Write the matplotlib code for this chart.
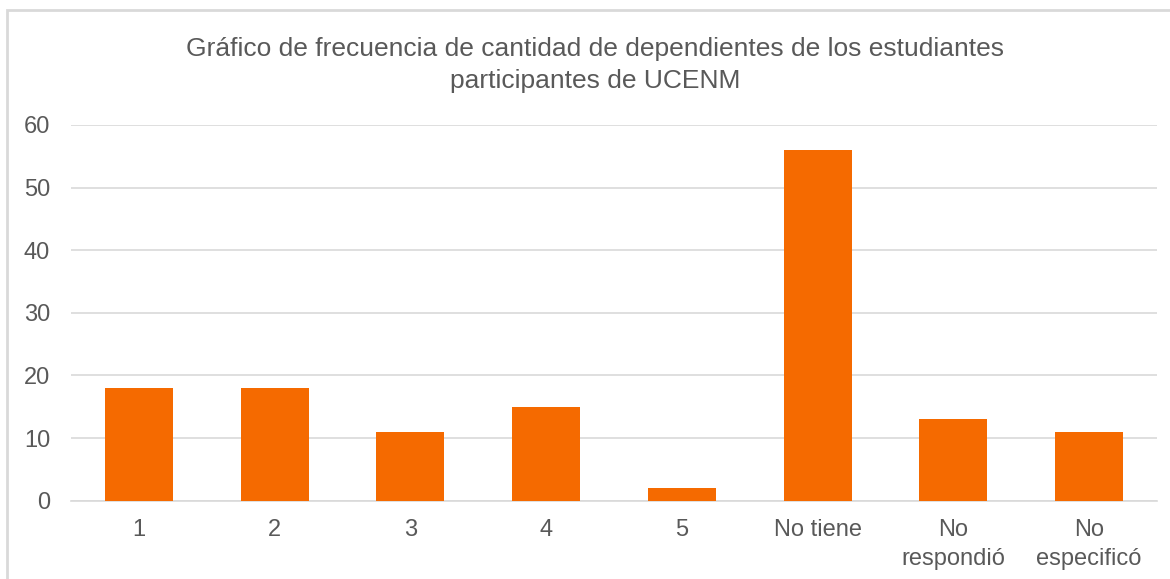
import numpy as np
import matplotlib.pyplot as plt
from matplotlib.patches import Rectangle

plt.rcParams['font.family'] = ['Liberation Sans', 'DejaVu Sans']

categories = ['1', '2', '3', '4', '5', 'No tiene', 'No\nrespondió', 'No\nespecificó']
counts = [18, 18, 11, 15, 2, 56, 13, 11]
y_ticks = [0, 10, 20, 30, 40, 50, 60]

W, H = 1170, 579
fig = plt.figure(figsize=(W / 100, H / 100), dpi=100)

# light gray frame round the chart area (right and bottom edges fall off the image)
fig.patches.append(Rectangle((7 / W, -0.05), 1.2, 1 - 10 / H + 0.05,
                             transform=fig.transFigure, fill=False,
                             edgecolor='#D9D9D9', linewidth=2))

ax = fig.add_axes([71 / W, 1 - 500.7 / H, (1157 - 71) / W, (500.7 - 125) / H])
x = np.arange(len(categories))
ax.bar(x, counts, width=0.5, color='#F56A00', zorder=3)

ax.set_xlim(-0.5, len(categories) - 0.5)
ax.set_ylim(0, 60)
ax.set_yticks(y_ticks)
ax.set_xticks(x)
ax.set_xticklabels(categories, fontsize=17, color='#595959', linespacing=1.45)
ax.tick_params(axis='y', labelsize=17, labelcolor='#595959', length=0, pad=15)
ax.tick_params(axis='x', length=0, pad=13)

ax.grid(axis='y', color='#D9D9D9', linewidth=1.2, zorder=0)
for s in ['top', 'right', 'left']:
    ax.spines[s].set_visible(False)
ax.spines['bottom'].set_color('#D9D9D9')
ax.spines['bottom'].set_linewidth(1.2)

fig.text(595 / W, 1 - 65 / H,
         'Gráfico de frecuencia de cantidad de dependientes de los estudiantes\nparticipantes de UCENM',
         ha='center', va='center', fontsize=19, color='#595959', linespacing=1.4)

fig.savefig('out.png', dpi=100)
